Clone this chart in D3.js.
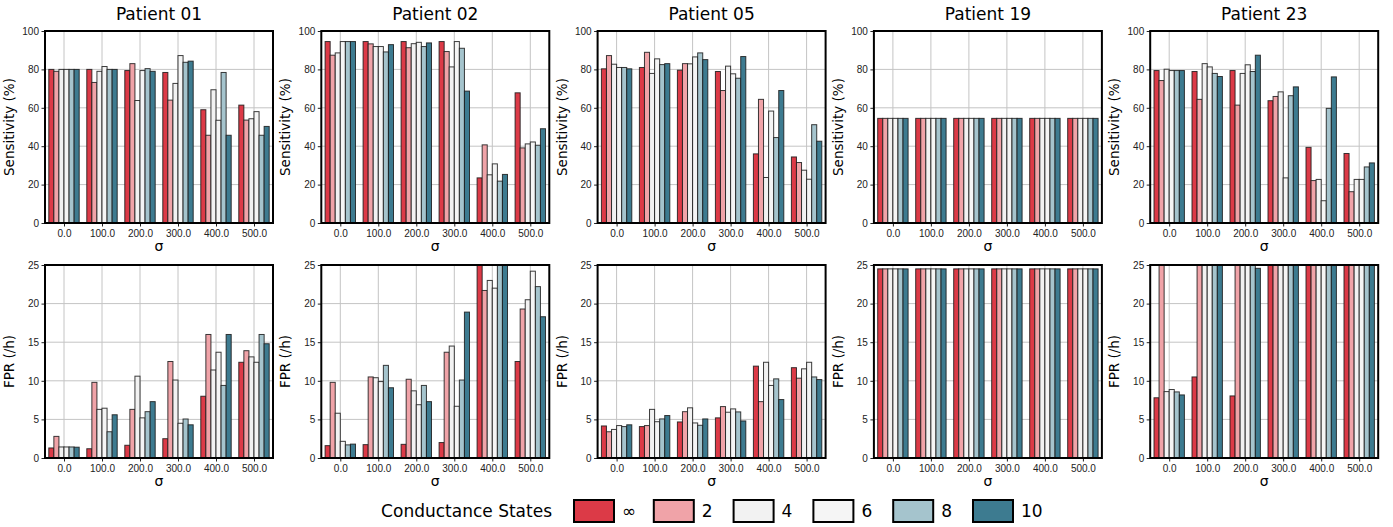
<!DOCTYPE html>
<html>
<head>
<meta charset="utf-8">
<script src="https://d3js.org/d3.v7.min.js"></script>
<style>
    body { margin: 0; background: #fff; }
    svg { font-family: "DejaVu Sans", sans-serif; }
</style>
</head>
<body>
<div id="chart"></div>
<script>
    const sigmaLabels = ['0.0', '100.0', '200.0', '300.0', '400.0', '500.0']
    const stateLabels = ['∞', '2', '4', '6', '8', '10']
    const stateColors = ['#dc3a47', '#f0a3a8', '#f2f2f2', '#f5f5f5', '#a5c4cd', '#3d7b90']
    const patientNames = ['Patient 01', 'Patient 02', 'Patient 05', 'Patient 19', 'Patient 23']
    const sensTicks = [0, 20, 40, 60, 80, 100]
    const fprTicks = [0, 5, 10, 15, 20, 25]

    // sensitivity (%) : one row per sigma, one value per conductance state
    const sens01 = [
        [80, 79, 80, 80, 80, 80],
        [80, 73.2, 79, 81.5, 80, 80],
        [79.4, 83, 63.8, 79.4, 80.4, 79],
        [78.4, 64, 72.7, 87.2, 83.7, 84.3],
        [59, 45.7, 69.4, 53.5, 78.4, 45.7],
        [61.4, 53.6, 54.3, 58, 45.7, 50.3]
    ]
    const sens02 = [
        [94.5, 87.4, 88.6, 94.5, 94.5, 94.5],
        [94.5, 93.3, 91.9, 91.9, 89.1, 92.9],
        [94.5, 91.3, 93.4, 94.1, 91.9, 93.8],
        [94.5, 89.3, 81.3, 94.5, 91, 68.7],
        [23.5, 40.7, 25.1, 30.8, 21.8, 25.3],
        [67.8, 39.1, 41.2, 42.2, 40.5, 49.1]
    ]
    const sens05 = [
        [80.3, 87.2, 82.7, 81, 81, 80.3],
        [81, 88.9, 77.9, 85.5, 82.5, 83],
        [79.6, 83, 82.9, 86.5, 88.6, 85.1],
        [78.9, 69, 81.7, 77.7, 75.4, 86.7],
        [36, 64.4, 23.7, 58.3, 44.5, 69],
        [34.4, 31.5, 27.5, 22.8, 51.2, 42.6]
    ]
    const sens19 = [
        [54.5, 54.5, 54.5, 54.5, 54.5, 54.5],
        [54.5, 54.5, 54.5, 54.5, 54.5, 54.5],
        [54.5, 54.5, 54.5, 54.5, 54.5, 54.5],
        [54.5, 54.5, 54.5, 54.5, 54.5, 54.5],
        [54.5, 54.5, 54.5, 54.5, 54.5, 54.5],
        [54.5, 54.5, 54.5, 54.5, 54.5, 54.5]
    ]
    const sens23 = [
        [79.4, 74.2, 80.1, 79.4, 79.4, 79.4],
        [78.9, 64.4, 83, 81.3, 77.9, 76.3],
        [79.4, 61.4, 77.9, 82.4, 78.9, 87.4],
        [63.7, 65.9, 68.3, 23.5, 66.3, 70.9],
        [39.4, 22.1, 22.7, 11.6, 59.7, 76.1],
        [36.2, 16.3, 22.7, 22.7, 29.2, 31.3]
    ]

    // false positive rate (/h), values above 25 run off the top of the axis
    const fpr01 = [
        [1.3, 2.8, 1.43, 1.43, 1.43, 1.4],
        [1.2, 9.8, 6.3, 6.45, 3.4, 5.6],
        [1.65, 6.3, 10.6, 5.2, 6.0, 7.3],
        [2.5, 12.5, 10.1, 4.5, 5.05, 4.3],
        [8.0, 16.0, 11.4, 13.7, 9.4, 16.0],
        [12.4, 13.9, 13.1, 12.4, 16.0, 14.8]
    ]
    const fpr02 = [
        [1.6, 9.8, 5.8, 2.16, 1.7, 1.8],
        [1.73, 10.5, 10.4, 9.9, 12.0, 9.1],
        [1.77, 10.2, 8.7, 6.9, 9.4, 7.3],
        [2.0, 13.7, 14.5, 6.7, 10.1, 18.9],
        [28, 21.7, 23.0, 22.0, 28, 28],
        [12.5, 19.3, 20.5, 24.2, 22.2, 18.3]
    ]
    const fpr05 = [
        [4.15, 3.4, 3.7, 4.2, 4.07, 4.3],
        [4.07, 4.2, 6.3, 4.7, 5.06, 5.5],
        [4.67, 6.0, 6.5, 4.54, 4.24, 5.06],
        [5.2, 6.66, 5.93, 6.36, 5.97, 4.8],
        [11.9, 7.3, 12.4, 9.4, 10.25, 7.57],
        [11.7, 10.34, 11.55, 12.4, 10.5, 10.16]
    ]
    const fpr19 = [
        [24.5, 24.5, 24.5, 24.5, 24.5, 24.5],
        [24.5, 24.5, 24.5, 24.5, 24.5, 24.5],
        [24.5, 24.5, 24.5, 24.5, 24.5, 24.5],
        [24.5, 24.5, 24.5, 24.5, 24.5, 24.5],
        [24.5, 24.5, 24.5, 24.5, 24.5, 24.5],
        [24.5, 24.5, 24.5, 24.5, 24.5, 24.5]
    ]
    const fpr23 = [
        [7.8, 30, 8.6, 8.87, 8.56, 8.17],
        [10.5, 30, 30, 30, 30, 30],
        [8.04, 30, 30, 30, 30, 24.57],
        [30, 30, 30, 30, 30, 30],
        [30, 30, 30, 30, 30, 30],
        [30, 30, 30, 30, 30, 30]
    ]

    const sensData = [sens01, sens02, sens05, sens19, sens23]
    const fprData = [fpr01, fpr02, fpr05, fpr19, fpr23]

    const W = 1393, H = 527
    const panelLeft = 45, panelStep = 276.3, panelWidth = 228
    const rows = [
        { top: 31, bottom: 223, ticks: sensTicks, max: 100, label: 'Sensitivity (%)', data: sensData },
        { top: 265, bottom: 458, ticks: fprTicks, max: 25, label: 'FPR (/h)', data: fprData }
    ]

    const svg = d3.select('#chart').append('svg')
        .attr('width', W)
        .attr('height', H)

    rows.forEach((row, r) => {
        patientNames.forEach((name, p) => {
            drawPanel(row, r, p, name)
        })
    })
    drawLegend()

    function drawPanel(row, r, p, name) {
        const x0 = panelLeft + p * panelStep
        const x = d3.scaleLinear().domain([-0.5, sigmaLabels.length - 0.5]).range([x0, x0 + panelWidth])
        const y = d3.scaleLinear().domain([0, row.max]).range([row.bottom, row.top])
        const g = svg.append('g')

        const clipId = `clip-${r}-${p}`
        g.append('clipPath').attr('id', clipId)
            .append('rect')
            .attr('x', x0).attr('y', row.top)
            .attr('width', panelWidth).attr('height', row.bottom - row.top)

        // grid
        g.append('g').selectAll('line.gy').data(row.ticks).join('line')
            .attr('x1', x0).attr('x2', x0 + panelWidth)
            .attr('y1', d => y(d)).attr('y2', d => y(d))
            .style('stroke', '#c4c4c4').style('stroke-width', 1)
        g.append('g').selectAll('line.gx').data(sigmaLabels).join('line')
            .attr('x1', (d, i) => x(i)).attr('x2', (d, i) => x(i))
            .attr('y1', row.top).attr('y2', row.bottom)
            .style('stroke', '#c4c4c4').style('stroke-width', 1)

        // bars
        const barW = 0.8 / stateLabels.length
        const values = row.data[p]
        const bars = g.append('g').attr('clip-path', `url(#${clipId})`)
        values.forEach((group, gi) => {
            group.forEach((v, si) => {
                const left = gi - 0.4 + si * barW
                bars.append('rect')
                    .attr('x', x(left))
                    .attr('y', y(v))
                    .attr('width', x(left + barW) - x(left))
                    .attr('height', y(0) - y(v))
                    .style('fill', stateColors[si])
                    .style('stroke', '#1a1a1a')
                    .style('stroke-opacity', 0.85)
                    .style('stroke-width', 1)
            })
        })

        // axes
        const yAxis = g.append('g')
            .attr('transform', `translate(${x0},0)`)
            .call(d3.axisLeft(y).tickValues(row.ticks).tickFormat(d3.format('d')).tickSize(3.5).tickPadding(2.5))
        const xAxis = g.append('g')
            .attr('transform', `translate(0,${row.bottom})`)
            .call(d3.axisBottom(x).tickValues(d3.range(sigmaLabels.length)).tickFormat(i => sigmaLabels[i]).tickSize(3.5).tickPadding(3))
        ;[yAxis, xAxis].forEach(a => {
            a.select('.domain').remove()
            a.selectAll('text').style('font-size', '10px').style('fill', '#222')
            a.selectAll('line').style('stroke', '#222')
        })

        // frame
        g.append('rect')
            .attr('x', x0).attr('y', row.top)
            .attr('width', panelWidth).attr('height', row.bottom - row.top)
            .style('fill', 'none').style('stroke', '#000').style('stroke-width', 2)

        // labels
        g.append('text')
            .attr('transform', `translate(${x0 - 31},${(row.top + row.bottom) / 2}) rotate(-90)`)
            .attr('text-anchor', 'middle')
            .style('font-size', '13.5px')
            .text(row.label)
        g.append('text')
            .attr('x', x0 + panelWidth / 2)
            .attr('y', row.bottom + 28)
            .attr('text-anchor', 'middle')
            .style('font-size', '14px')
            .text('σ')
        if (r === 0) {
            g.append('text')
                .attr('x', x0 + panelWidth / 2)
                .attr('y', 20)
                .attr('text-anchor', 'middle')
                .style('font-size', '17px')
                .text(name)
        }
    }

    function drawLegend() {
        const g = svg.append('g')
        const cy = 511
        g.append('text')
            .attr('x', 552).attr('y', cy + 6)
            .attr('text-anchor', 'end')
            .style('font-size', '17px')
            .text('Conductance States')
        stateLabels.forEach((s, i) => {
            const bx = 574 + i * 79.8
            g.append('rect')
                .attr('x', bx).attr('y', cy - 11)
                .attr('width', 40).attr('height', 22)
                .style('fill', stateColors[i])
                .style('stroke', '#000').style('stroke-width', 2)
            g.append('text')
                .attr('x', bx + 48).attr('y', cy + 6)
                .style('font-size', '17px')
                .text(s)
        })
    }
</script>
</body>
</html>
